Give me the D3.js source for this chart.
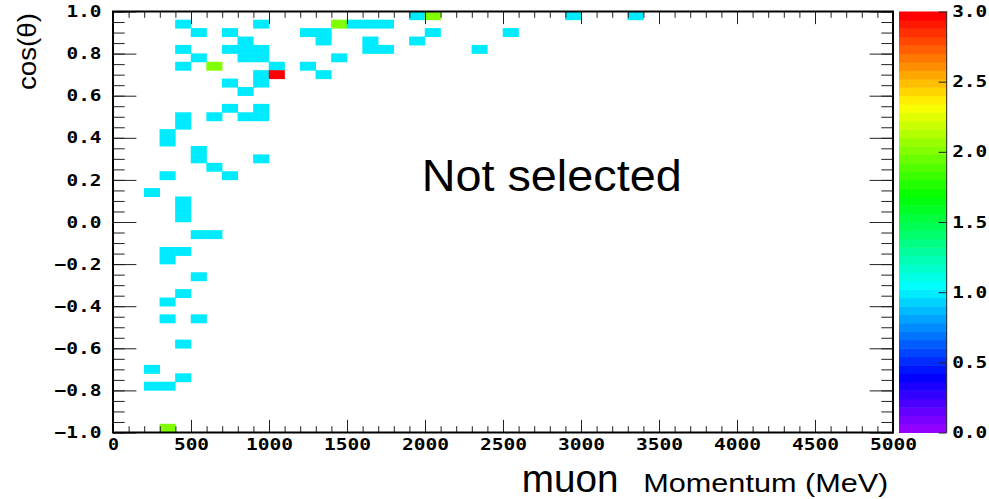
<!DOCTYPE html>
<html>
<head>
<meta charset="utf-8">
<script src="https://cdn.jsdelivr.net/npm/d3@7"></script>
<style>
  body { margin: 0; background: #fff; }
  svg { display: block; }
</style>
</head>
<body>
<svg id="chart" width="989" height="499"></svg>
<script>
// filled bins: lower edge in momentum (MeV), lower edge in cos(theta), entries
var momentum = [1900, 2000, 2900, 3300,
                400, 900, 1400, 1500, 1600, 1700,
                500, 700, 1200, 1300, 2000, 2500,
                800, 1300, 1600, 1900,
                400, 700, 800, 900, 1600, 1700, 2300,
                500, 800, 900, 1400,
                400, 600, 1000, 1200,
                900, 1000, 1300,
                700, 900,
                800,
                700, 900,
                400, 600, 800, 900,
                400, 300, 300, 500,
                500, 900, 600,
                300, 700, 200,
                400, 400, 400,
                500, 600, 300, 400, 300, 500,
                400, 300, 300, 500,
                400, 200, 400, 200, 300, 300];
var cosTheta = [0.96, 0.96, 0.96, 0.96,
                0.92, 0.92, 0.92, 0.92, 0.92, 0.92,
                0.88, 0.88, 0.88, 0.88, 0.88, 0.88,
                0.84, 0.84, 0.84, 0.84,
                0.80, 0.80, 0.80, 0.80, 0.80, 0.80, 0.80,
                0.76, 0.76, 0.76, 0.76,
                0.72, 0.72, 0.72, 0.72,
                0.68, 0.68, 0.68,
                0.64, 0.64,
                0.60,
                0.52, 0.52,
                0.48, 0.48, 0.48, 0.48,
                0.44, 0.40, 0.36, 0.32,
                0.28, 0.28, 0.24,
                0.20, 0.20, 0.12,
                0.08, 0.04, 0.00,
                -0.08, -0.08, -0.16, -0.16, -0.20, -0.28,
                -0.36, -0.40, -0.48, -0.48,
                -0.60, -0.72, -0.76, -0.80, -0.80, -1.00];
var counts = [1, 2, 1, 1,
              1, 1, 2, 1, 1, 1,
              1, 1, 1, 1, 1, 1,
              1, 1, 1, 1,
              1, 1, 1, 1, 1, 1, 1,
              1, 1, 1, 1,
              1, 2, 1, 1,
              1, 3, 1,
              1, 1,
              1,
              1, 1,
              1, 1, 1, 1,
              1, 1, 1, 1,
              1, 1, 1,
              1, 1, 1,
              1, 1, 1,
              1, 1, 1, 1, 1, 1,
              1, 1, 1, 1,
              1, 1, 1, 1, 1, 2];

var xMajorTicks = [0, 500, 1000, 1500, 2000, 2500, 3000, 3500, 4000, 4500, 5000];
var yMajorTicks = [-1.0, -0.8, -0.6, -0.4, -0.2, 0.0, 0.2, 0.4, 0.6, 0.8, 1.0];
var zTicks = [0.0, 0.5, 1.0, 1.5, 2.0, 2.5, 3.0];

var BIN_P = 100, BIN_C = 0.04, NCOLORS = 50;
var L = 113, R = 893, T = 11.5, B = 432.5;

var svg = d3.select("#chart");
svg.append("rect").attr("width", 989).attr("height", 499).attr("fill", "#fff");

var x = d3.scaleLinear().domain([0, 5000]).range([L, R]);
var y = d3.scaleLinear().domain([-1, 1]).range([B, T]);
var z = d3.scaleLinear().domain([0, 3]).range([B, T]);

// old root "pretty palette": violet -> red through hue
var palette = d3.range(NCOLORS).map(function(i) {
    if (i == NCOLORS - 1) return "rgb(255,0,0)";
    return d3.hsl(280 - (i + 1) * 280 / NCOLORS, 1, 0.5).toString();
});
function colorOf(v) {
    var idx = Math.floor(0.01 + v * NCOLORS / 3);
    return palette[Math.min(NCOLORS - 1, idx)];
}

var cells = momentum.map(function(m, i) { return {p: m, c: cosTheta[i], n: counts[i]}; });

// small overlap so neighbouring bins don't show seams
svg.append("g").selectAll("rect").data(cells).join("rect")
    .attr("x", function(d) { return x(d.p) - 0.25; })
    .attr("width", function(d) { return x(d.p + BIN_P) - x(d.p) + 0.5; })
    .attr("y", function(d) { return y(d.c + BIN_C) - 0.25; })
    .attr("height", function(d) { return y(d.c) - y(d.c + BIN_C) + 0.5; })
    .attr("fill", function(d) { return colorOf(d.n); });

// tick label helper: wide bold mono look
function styleLabels(g) {
    g.select(".domain").remove();
    g.selectAll(".tick line").attr("stroke", "#222").attr("stroke-width", 1);
    g.selectAll("text")
        .attr("fill", "#000")
        .style("font-family", "'DejaVu Sans Mono', monospace")
        .style("font-weight", "bold")
        .style("font-size", "16px")
        .attr("lengthAdjust", "spacingAndGlyphs")
        .attr("textLength", function() { return this.textContent.length * 12 - 1; });
}

var xMinor = d3.range(0, 5001, 100);
var yMinor = d3.range(-20, 21).map(function(k) { return k * 0.05; });
var xTickLen = 0.03 * (B - T), yTickLen = 0.03 * (R - L);

// bottom + top x ticks
svg.append("g").attr("transform", "translate(0," + B + ")")
    .call(d3.axisBottom(x).tickValues(xMinor).tickSizeInner(-xTickLen / 2).tickSizeOuter(0).tickFormat(""))
    .call(styleLabels);
svg.append("g").attr("transform", "translate(0," + B + ")")
    .call(d3.axisBottom(x).tickValues(xMajorTicks).tickSizeInner(-xTickLen).tickSizeOuter(0).tickPadding(6).tickFormat(d3.format("d")))
    .call(styleLabels);
svg.append("g").attr("transform", "translate(0," + T + ")")
    .call(d3.axisTop(x).tickValues(xMinor).tickSizeInner(-xTickLen / 2).tickSizeOuter(0).tickFormat(""))
    .call(styleLabels);
svg.append("g").attr("transform", "translate(0," + T + ")")
    .call(d3.axisTop(x).tickValues(xMajorTicks).tickSizeInner(-xTickLen).tickSizeOuter(0).tickFormat(""))
    .call(styleLabels);

// left + right y ticks
svg.append("g").attr("transform", "translate(" + L + ",0)")
    .call(d3.axisLeft(y).tickValues(yMinor).tickSizeInner(-yTickLen / 2).tickSizeOuter(0).tickFormat(""))
    .call(styleLabels);
svg.append("g").attr("transform", "translate(" + L + ",0)")
    .call(d3.axisLeft(y).tickValues(yMajorTicks).tickSizeInner(-yTickLen).tickSizeOuter(0).tickPadding(11.5).tickFormat(d3.format(".1f")))
    .call(styleLabels);
svg.append("g").attr("transform", "translate(" + R + ",0)")
    .call(d3.axisRight(y).tickValues(yMinor).tickSizeInner(-yTickLen / 2).tickSizeOuter(0).tickFormat(""))
    .call(styleLabels);
svg.append("g").attr("transform", "translate(" + R + ",0)")
    .call(d3.axisRight(y).tickValues(yMajorTicks).tickSizeInner(-yTickLen).tickSizeOuter(0).tickFormat(""))
    .call(styleLabels);

// frame
svg.append("rect").attr("x", L).attr("y", T).attr("width", R - L).attr("height", B - T)
    .attr("fill", "none").attr("stroke", "#000").attr("stroke-width", 2);

// colour palette bar
var barX = 899, barW = 47.7;
svg.append("g").selectAll("rect").data(d3.range(NCOLORS)).join("rect")
    .attr("x", barX).attr("width", barW)
    .attr("y", function(i) { return z((i + 1) * 3 / NCOLORS); })
    .attr("height", function(i) { return z(i * 3 / NCOLORS) - z((i + 1) * 3 / NCOLORS) + 0.5; })
    .attr("fill", function(i) { return palette[i]; });
svg.append("g").attr("transform", "translate(" + (barX + barW) + ",0)")
    .call(d3.axisRight(z).tickValues(zTicks).tickSizeInner(-8).tickSizeOuter(0).tickPadding(5.5).tickFormat(d3.format(".1f")))
    .call(styleLabels);
svg.append("line").attr("x1", barX + barW).attr("x2", barX + barW).attr("y1", T).attr("y2", B)
    .attr("stroke", "#222").attr("stroke-width", 1);

// titles
svg.append("text").attr("transform", "translate(36,13) rotate(-90)")
    .attr("text-anchor", "end")
    .style("font-family", "'Liberation Sans', Arial, sans-serif").style("font-size", "25px")
    .attr("textLength", 77).attr("lengthAdjust", "spacingAndGlyphs")
    .text("cos(\u03b8)");
svg.append("text").attr("x", 521.7).attr("y", 492)
    .style("font-family", "'Liberation Sans', Arial, sans-serif").style("font-size", "38px")
    .attr("textLength", 96.7).attr("lengthAdjust", "spacingAndGlyphs")
    .text("muon");
svg.append("text").attr("x", 643.3).attr("y", 491.5)
    .style("font-family", "'Liberation Sans', Arial, sans-serif").style("font-size", "26px")
    .attr("textLength", 245).attr("lengthAdjust", "spacingAndGlyphs")
    .text("Momentum (MeV)");
svg.append("text").attr("x", 421.7).attr("y", 191)
    .style("font-family", "'Liberation Sans', Arial, sans-serif").style("font-size", "45px")
    .attr("textLength", 260).attr("lengthAdjust", "spacingAndGlyphs")
    .text("Not selected");
</script>
</body>
</html>
